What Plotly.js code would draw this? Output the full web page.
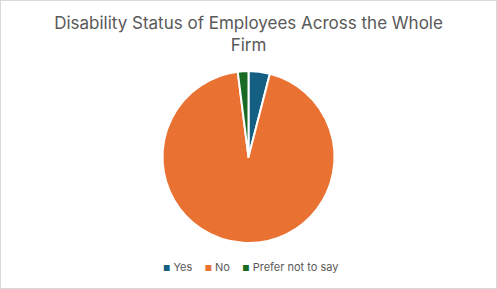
<!DOCTYPE html>
<html><head><meta charset="utf-8">
<script src="https://cdn.plot.ly/plotly-3.0.1.min.js"></script>
<style>
html,body{margin:0;padding:0;background:#fff;}
#wrap{position:relative;width:497px;height:289px;}
#chart{width:497px;height:289px;}
#border{position:absolute;left:0;top:0;width:495px;height:287px;border:1px solid #d9d9d9;pointer-events:none;}
</style></head>
<body>
<div id="wrap"><div id="chart"></div><div id="border"></div></div>
<script>
const categories = ["Yes", "No", "Prefer not to say"];
const values = [4, 94, 2];
const colors = ["#156082", "#E97132", "#196B24"];

const data = [{
  type: "pie",
  labels: categories,
  values: values,
  sort: false,
  direction: "clockwise",
  rotation: 0,
  textinfo: "none",
  hoverinfo: "label+percent",
  showlegend: false,
  marker: {colors: colors, line: {color: "#ffffff", width: 2}}
}];

// custom compact legend built from categories/colors
const legendText = categories.map((c, i) =>
  `<span style="color:${colors[i]};font-size:8px">■</span>&nbsp;${c}`
).join("&nbsp;&nbsp;&nbsp;&nbsp;");

const layout = {
  width: 497, height: 289,
  margin: {l: 0, r: 0, t: 71, b: 46},
  paper_bgcolor: "#ffffff",
  font: {family: "Inter, 'Open Sans', sans-serif", color: "#595959"},
  title: {
    text: "Disability Status of Employees Across the Whole<br>Firm",
    font: {size: 17, color: "#595959", family: "Inter, 'Open Sans', sans-serif"},
    x: 0.5, xanchor: "center", yref: "container", y: 0.9, yanchor: "top"
  },
  showlegend: false,
  annotations: [{
    text: legendText, xref: "paper", yref: "paper", x: 0.505, y: -0.14,
    xanchor: "center", yanchor: "middle", showarrow: false,
    font: {size: 11, color: "#595959", family: "Inter, 'Open Sans', sans-serif"}
  }]
};
Plotly.newPlot("chart", data, layout, {displayModeBar: false, staticPlot: true});
</script>
</body></html>
